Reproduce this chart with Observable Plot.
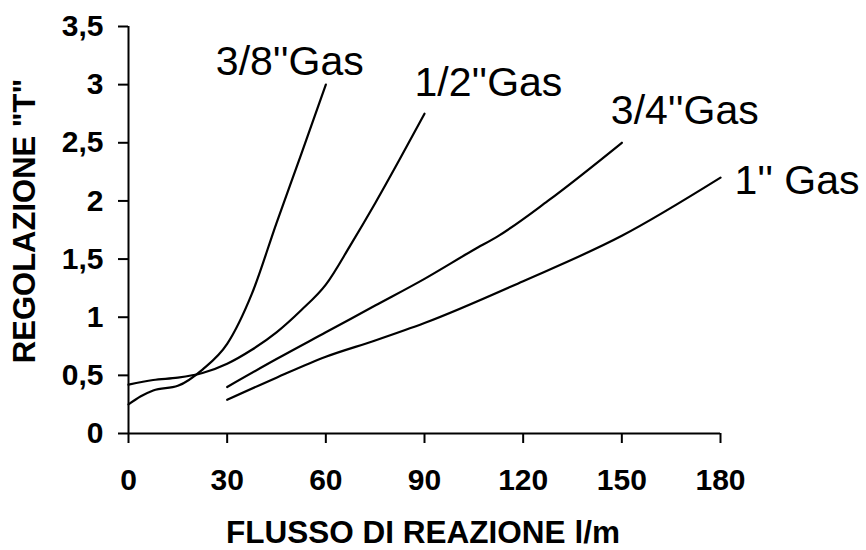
<!DOCTYPE html>
<html><head><meta charset="utf-8">
<script src="https://cdn.jsdelivr.net/npm/d3@7"></script>
<script src="https://cdn.jsdelivr.net/npm/@observablehq/plot@0.6"></script>
<style>body{margin:0;background:#fff}</style>
</head><body><div id="chart"></div>
<script>
// Tick values
const xTicks = [0, 30, 60, 90, 120, 150, 180];
const yTicks = [0, 0.5, 1, 1.5, 2, 2.5, 3, 3.5];

// Axis titles
const xTitle = "FLUSSO DI REAZIONE l/m";
const yTitle = 'REGOLAZIONE "T"';

// Series names
const seriesNames = ["3/8''Gas", "1/2''Gas", "3/4''Gas", "1'' Gas"];

// Series values (flow l/m -> regulation T)
const flow38 = [0, 3.75, 7.5, 15, 22.5, 30, 37.5, 45, 52.5, 60];
const reg38  = [0.25, 0.32, 0.37, 0.41, 0.55, 0.77, 1.2, 1.81, 2.4, 3.0];

const flow12 = [0, 7.5, 15, 22.5, 30, 37.5, 45, 52.5, 60, 67.5, 75, 82.5, 90];
const reg12  = [0.42, 0.46, 0.48, 0.52, 0.6, 0.72, 0.87, 1.06, 1.28, 1.62, 1.98, 2.36, 2.75];

const flow34 = [30, 45, 60, 75, 90, 105, 112.5, 127.5, 150];
const reg34  = [0.4, 0.64, 0.87, 1.1, 1.33, 1.58, 1.7, 2.0, 2.5];

const flow1 = [30, 45, 60, 75, 90, 120, 150, 180];
const reg1  = [0.29, 0.48, 0.66, 0.8, 0.95, 1.31, 1.7, 2.2];

const flows = [flow38, flow12, flow34, flow1];
const regs = [reg38, reg12, reg34, reg1];

const rows = [];
seriesNames.forEach((name, i) => {
  flows[i].forEach((f, j) => rows.push({series: name, flow: f, reg: regs[i][j]}));
});
const lastPoints = seriesNames.map((name, i) => ({
  series: name, flow: flows[i][flows[i].length - 1], reg: regs[i][regs[i].length - 1]
}));

// label placement offsets (pixels) relative to each series' last point
const labelOffsets = [[-110, -10], [-10, -18], [-11, -19], [14, 16]];

const font = "'Liberation Sans', Arial, Helvetica, sans-serif";

const chart = Plot.plot({
  width: 866,
  height: 550,
  marginTop: 26,
  marginBottom: 117,
  marginLeft: 128,
  marginRight: 146,
  style: {fontFamily: font, color: "#000", background: "#fff", overflow: "visible"},
  x: {domain: [0, 180]},
  y: {domain: [0, 3.5]},
  marks: [
    Plot.axisX({ticks: xTicks, tickSize: 10, tickPadding: 25, strokeWidth: 2, stroke: "#000",
      fontSize: 30, fontWeight: "bold", label: null}),
    Plot.axisY({ticks: yTicks, tickSize: 10, tickPadding: 15, strokeWidth: 2, stroke: "#000",
      fontSize: 30, fontWeight: "bold", label: null,
      tickFormat: d => String(d).replace(".", ",")}),
    Plot.ruleY([0], {stroke: "#000", strokeWidth: 2}),
    Plot.ruleX([0], {stroke: "#000", strokeWidth: 2}),
    Plot.line(rows, {x: "flow", y: "reg", z: "series", stroke: "#000", strokeWidth: 2.2, curve: "monotone-x"}),
    ...lastPoints.map((p, i) => Plot.text([p], {
      x: "flow", y: "reg", text: "series", textAnchor: "start", lineAnchor: "bottom",
      dx: labelOffsets[i][0], dy: labelOffsets[i][1], fontSize: 41, fill: "#000"
    })),
    Plot.text([xTitle], {frameAnchor: "bottom", text: d => d, dy: 99, dx: -1.5, textAnchor: "middle",
      fontSize: 31.5, fontWeight: "bold", lineAnchor: "middle", fill: "#000"}),
    Plot.text([yTitle], {frameAnchor: "left", text: d => d, rotate: -90, dx: -103.5, dy: -9, textAnchor: "middle",
      fontSize: 31, fontWeight: "bold", lineAnchor: "middle", fill: "#000"})
  ]
});
document.getElementById("chart").appendChild(chart);
</script>
</body></html>
